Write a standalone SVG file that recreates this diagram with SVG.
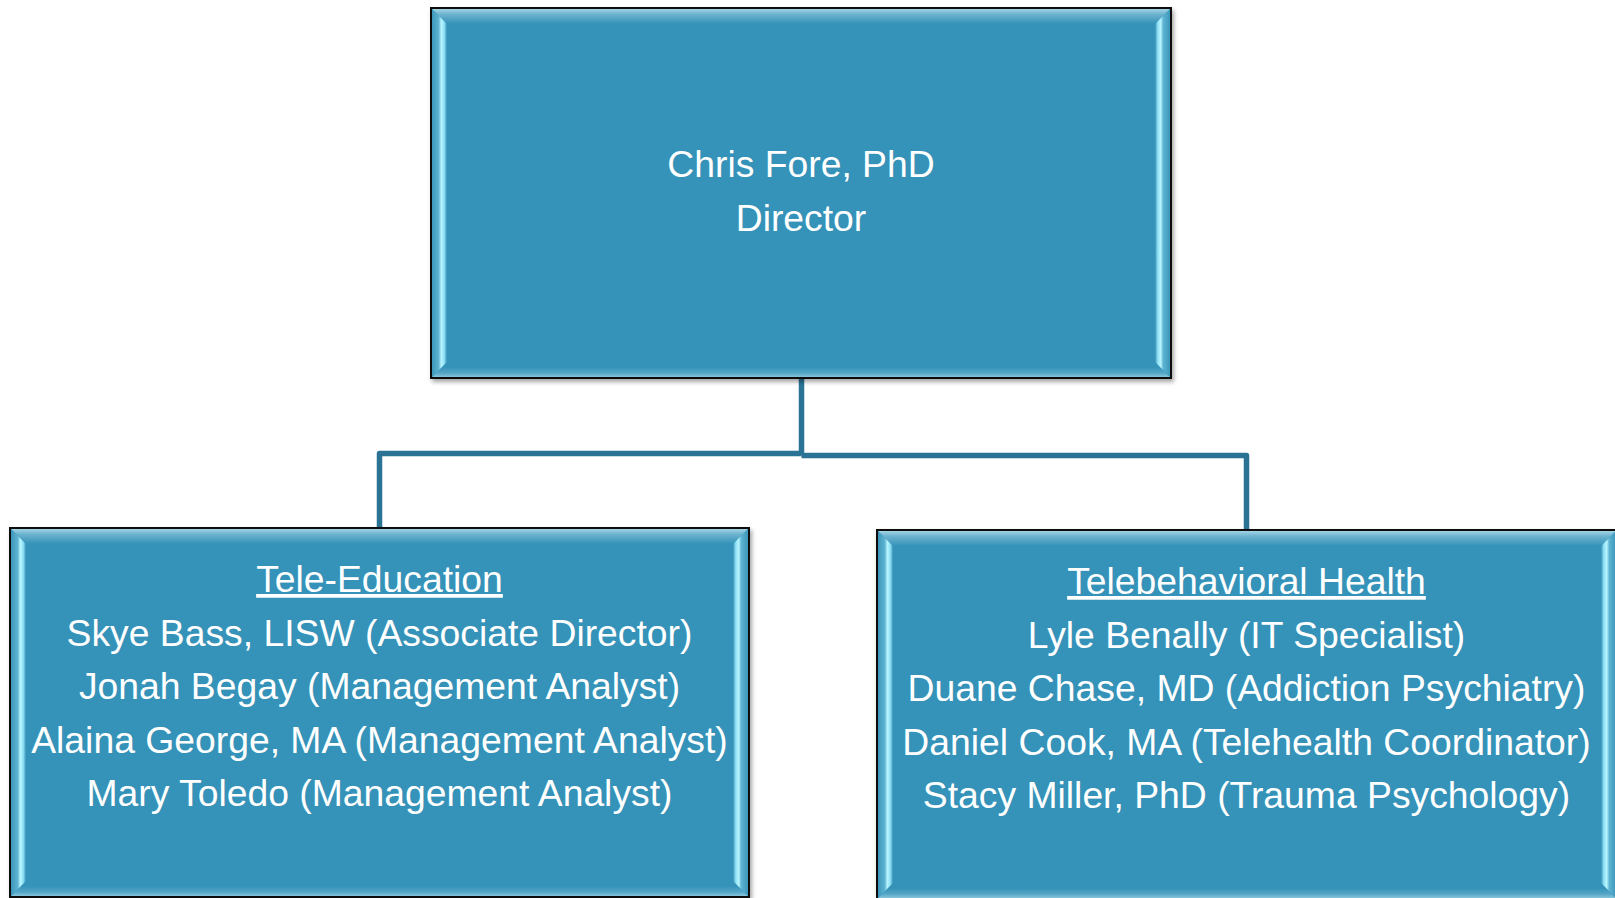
<svg xmlns="http://www.w3.org/2000/svg" width="1615" height="898" viewBox="0 0 1615 898">
  <defs>
    <filter id="shadow" x="-5%" y="-5%" width="110%" height="110%">
      <feDropShadow dx="2" dy="3" stdDeviation="2" flood-color="#000" flood-opacity="0.35"/>
    </filter>
    <linearGradient id="gTop" x1="0" y1="0" x2="0" y2="1">
      <stop offset="0" stop-color="#a2d3e5"/>
      <stop offset="0.35" stop-color="#6db3cf"/>
      <stop offset="1" stop-color="#3492b8"/>
    </linearGradient>
    <linearGradient id="gBottom" x1="0" y1="0" x2="0" y2="1">
      <stop offset="0" stop-color="#3492b8"/>
      <stop offset="0.6" stop-color="#55a6c6"/>
      <stop offset="1" stop-color="#86c5dc"/>
    </linearGradient>
    <linearGradient id="gLeft" x1="0" y1="0" x2="1" y2="0">
      <stop offset="0" stop-color="#3d97bb"/>
      <stop offset="0.45" stop-color="#5db3d1"/>
      <stop offset="0.62" stop-color="#b8f6ff"/>
      <stop offset="0.82" stop-color="#8de0f5"/>
      <stop offset="1" stop-color="#3792b8"/>
    </linearGradient>
    <linearGradient id="gRight" x1="1" y1="0" x2="0" y2="0">
      <stop offset="0" stop-color="#3d97bb"/>
      <stop offset="0.45" stop-color="#5db3d1"/>
      <stop offset="0.62" stop-color="#b8f6ff"/>
      <stop offset="0.82" stop-color="#8de0f5"/>
      <stop offset="1" stop-color="#3792b8"/>
    </linearGradient>
  </defs>
  <style>
    .box { fill: #3492b8; stroke: #111; stroke-width: 2; }
    .txt { font-family: "Liberation Sans", Arial, sans-serif; font-size: 37.3px; fill: #ffffff; text-anchor: middle; }
    .head { text-decoration: underline; }
    .conn { fill: none; stroke: #2a7394; stroke-width: 5.5; stroke-linejoin: round; }
  </style>
  <rect width="1615" height="898" fill="#ffffff"/>

  <g id="connectors">
    <path class="conn" d="M801.5,378 V455"/>
    <path class="conn" d="M379.5,528 V453.5 H801.5"/>
    <path class="conn" d="M801.5,455.5 H1246.5 V530"/>
  </g>

  <g id="director">
    <rect class="box" x="431" y="8" width="740" height="370" filter="url(#shadow)"/>
    <polygon points="432,9 1170,9 1155,24 447,24" fill="url(#gTop)"/>
    <polygon points="432,377 1170,377 1160,367 442,367" fill="url(#gBottom)"/>
    <polygon points="432,9 447,24 447,362 432,377" fill="url(#gLeft)"/>
    <polygon points="1170,9 1155,24 1155,362 1170,377" fill="url(#gRight)"/>
    <text class="txt" x="801" y="177">Chris Fore, PhD</text>
    <text class="txt" x="801" y="231">Director</text>
  </g>

  <g id="tele-education">
    <rect class="box" x="10" y="528" width="739" height="369" filter="url(#shadow)"/>
    <polygon points="11,529 748,529 733,544 26,544" fill="url(#gTop)"/>
    <polygon points="11,896 748,896 738,886 21,886" fill="url(#gBottom)"/>
    <polygon points="11,529 26,544 26,881 11,896" fill="url(#gLeft)"/>
    <polygon points="748,529 733,544 733,881 748,896" fill="url(#gRight)"/>
    <text class="txt head" x="379.5" y="592">Tele-Education</text>
    <text class="txt" x="379.5" y="645.5">Skye Bass, LISW (Associate Director)</text>
    <text class="txt" x="379.5" y="699">Jonah Begay (Management Analyst)</text>
    <text class="txt" x="379.5" y="752.5">Alaina George, MA (Management Analyst)</text>
    <text class="txt" x="379.5" y="806">Mary Toledo (Management Analyst)</text>
  </g>

  <g id="telebehavioral-health">
    <rect class="box" x="877" y="530" width="740" height="369" filter="url(#shadow)"/>
    <polygon points="878,531 1616,531 1601,546 893,546" fill="url(#gTop)"/>
    <polygon points="878,898 1616,898 1606,888 888,888" fill="url(#gBottom)"/>
    <polygon points="878,531 893,546 893,883 878,898" fill="url(#gLeft)"/>
    <polygon points="1616,531 1601,546 1601,883 1616,898" fill="url(#gRight)"/>
    <text class="txt head" x="1246.5" y="594">Telebehavioral Health</text>
    <text class="txt" x="1246.5" y="647.5">Lyle Benally (IT Specialist)</text>
    <text class="txt" x="1246.5" y="701">Duane Chase, MD (Addiction Psychiatry)</text>
    <text class="txt" x="1246.5" y="754.5">Daniel Cook, MA (Telehealth Coordinator)</text>
    <text class="txt" x="1246.5" y="808">Stacy Miller, PhD (Trauma Psychology)</text>
  </g>
</svg>
